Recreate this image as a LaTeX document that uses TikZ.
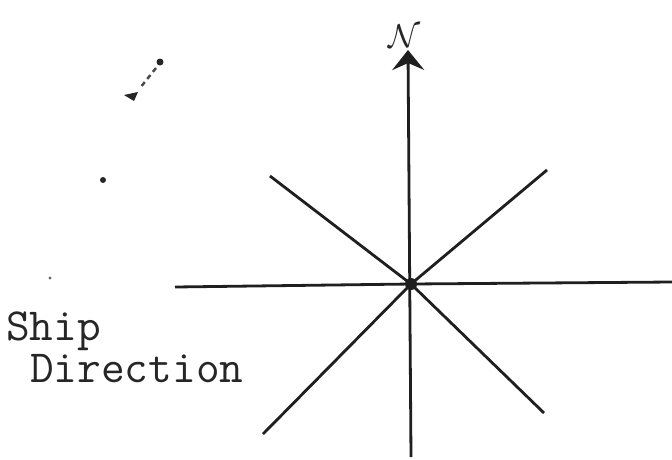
\documentclass[tikz,border=0pt]{standalone}
\usetikzlibrary{arrows.meta}
\begin{document}
\begin{tikzpicture}[x=1pt,y=-1pt,
  axis/.style={draw=black!88, line width=2.8pt, line join=round},
  label/.style={font=\fontsize{46}{46}\selectfont\ttfamily, text=black!85, inner sep=0pt},
  speck/.style={fill=black!85}]
\useasboundingbox (0,0) rectangle (672,459);
\fill[white] (0,0) rectangle (672,459);
% compass rose
\coordinate (C)  at (411,284);
\coordinate (Nt) at (408,50);
\coordinate (S)  at (411,457);
\coordinate (W)  at (175,287);
\coordinate (E)  at (672,282);
\coordinate (NW) at (270,176);
\coordinate (NE) at (547,170);
\coordinate (SW) at (263,434);
\coordinate (SE) at (544,413);
\draw[axis] (W) -- (C) -- (E);
\draw[axis] (NW) -- (C) -- (SE);
\draw[axis] (NE) -- (C) -- (SW);
\draw[axis, -{Stealth[length=20pt,width=32pt,inset=7pt]}] (S) -- (Nt);
\fill[black!88] (C) circle (6);
\node[scale=3.3, text=black!85, inner sep=0pt] (nlab) at (404,36) {$\mathcal{N}$};
% label
\node[label, anchor=base west] (ship) at (6,340) {Ship};
\node[label, anchor=base west] (dir) at (30,382) {Direction};
% specks
\fill[speck] (160,62) circle (3.5);
\draw[black!70, line width=2.5pt, dash pattern=on 5pt off 4pt] (156,68) -- (140,88);
\fill[speck] (124,95) -- (138,92) -- (134,101) -- cycle;
\fill[speck] (103,180) circle (3);
\fill[black!60] (50,278) circle (1.6);
\end{tikzpicture}
\end{document}
